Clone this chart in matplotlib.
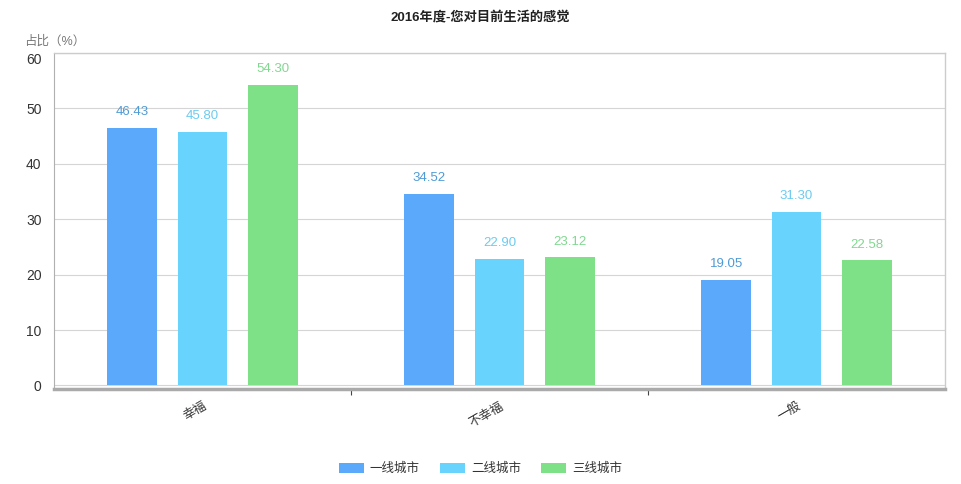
import numpy as np
import matplotlib.pyplot as plt

plt.rcParams['font.family'] = ['Liberation Sans', 'Noto Sans CJK SC', 'DejaVu Sans']

categories = ['幸福', '不幸福', '一般']
series_names = ['一线城市', '二线城市', '三线城市']
tier1 = [46.43, 34.52, 19.05]
tier2 = [45.80, 22.90, 31.30]
tier3 = [54.30, 23.12, 22.58]
values = [tier1, tier2, tier3]

bar_colors = ['#5ba9fa', '#68d3fc', '#7ee087']
label_colors = ['#4e9bd6', '#6ccbf0', '#80d890']

fig = plt.figure(figsize=(9.61, 4.84), dpi=100)
ax = fig.add_axes([0.0562, 0.1963, 0.9272, 0.6942])

x = np.arange(len(categories))
width = 0.168
step = 0.236
for i, (vals, c, lc) in enumerate(zip(values, bar_colors, label_colors)):
    pos = x + (i - 1) * step
    ax.bar(pos, vals, width=width, color=c, zorder=3, label=series_names[i])
    for p, v in zip(pos, vals):
        ax.annotate(f'{v:.2f}', (p, v), xytext=(0, 7), textcoords='offset points',
                    ha='center', va='bottom', fontsize=9.5, color=lc)

ax.set_xlim(-0.5, 2.5)
ax.set_ylim(-0.63, 60)
ax.set_yticks([0, 10, 20, 30, 40, 50, 60])
ax.yaxis.grid(True, color='#d5d5d5', linewidth=0.8, zorder=0)
ax.tick_params(axis='y', length=0, labelsize=10, colors='#333333', pad=9)
# the top label sits a little inside the frame in the reference
ax.get_yticklabels()[-1].set_va('top')

ax.set_xticks([0.5, 1.5], minor=True)
ax.set_xticks(x)
ax.set_xticklabels(categories, rotation=30, ha='right', rotation_mode='anchor',
                   fontsize=9, color='#333333')
ax.tick_params(axis='x', which='major', length=0, pad=8)
ax.tick_params(axis='x', which='minor', length=4, color='#444444', width=0.8)

for s in ['top', 'right']:
    ax.spines[s].set_color('#cccccc')
    ax.spines[s].set_linewidth(1)
ax.spines['left'].set_color('#b0b0b0')
ax.spines['bottom'].set_color('#aaaaaa')
ax.spines['bottom'].set_linewidth(2.5)

fig.text(0.5, 0.962, '2016年度-您对目前生活的感觉', ha='center', va='center',
         fontsize=9.5, fontweight='bold', color='#222222')
fig.text(0.025, 0.913, '占比（%）', ha='left', va='center', fontsize=9, color='#777777')

handles, labels = ax.get_legend_handles_labels()
leg = fig.legend(handles, labels, loc='center', bbox_to_anchor=(0.5, 0.031), ncol=3,
                 frameon=False, fontsize=9, handlelength=2.0, handleheight=0.9,
                 columnspacing=1.6, handletextpad=0.5)
for t in leg.get_texts():
    t.set_color('#333333')

fig.savefig('out.png', dpi=100)
